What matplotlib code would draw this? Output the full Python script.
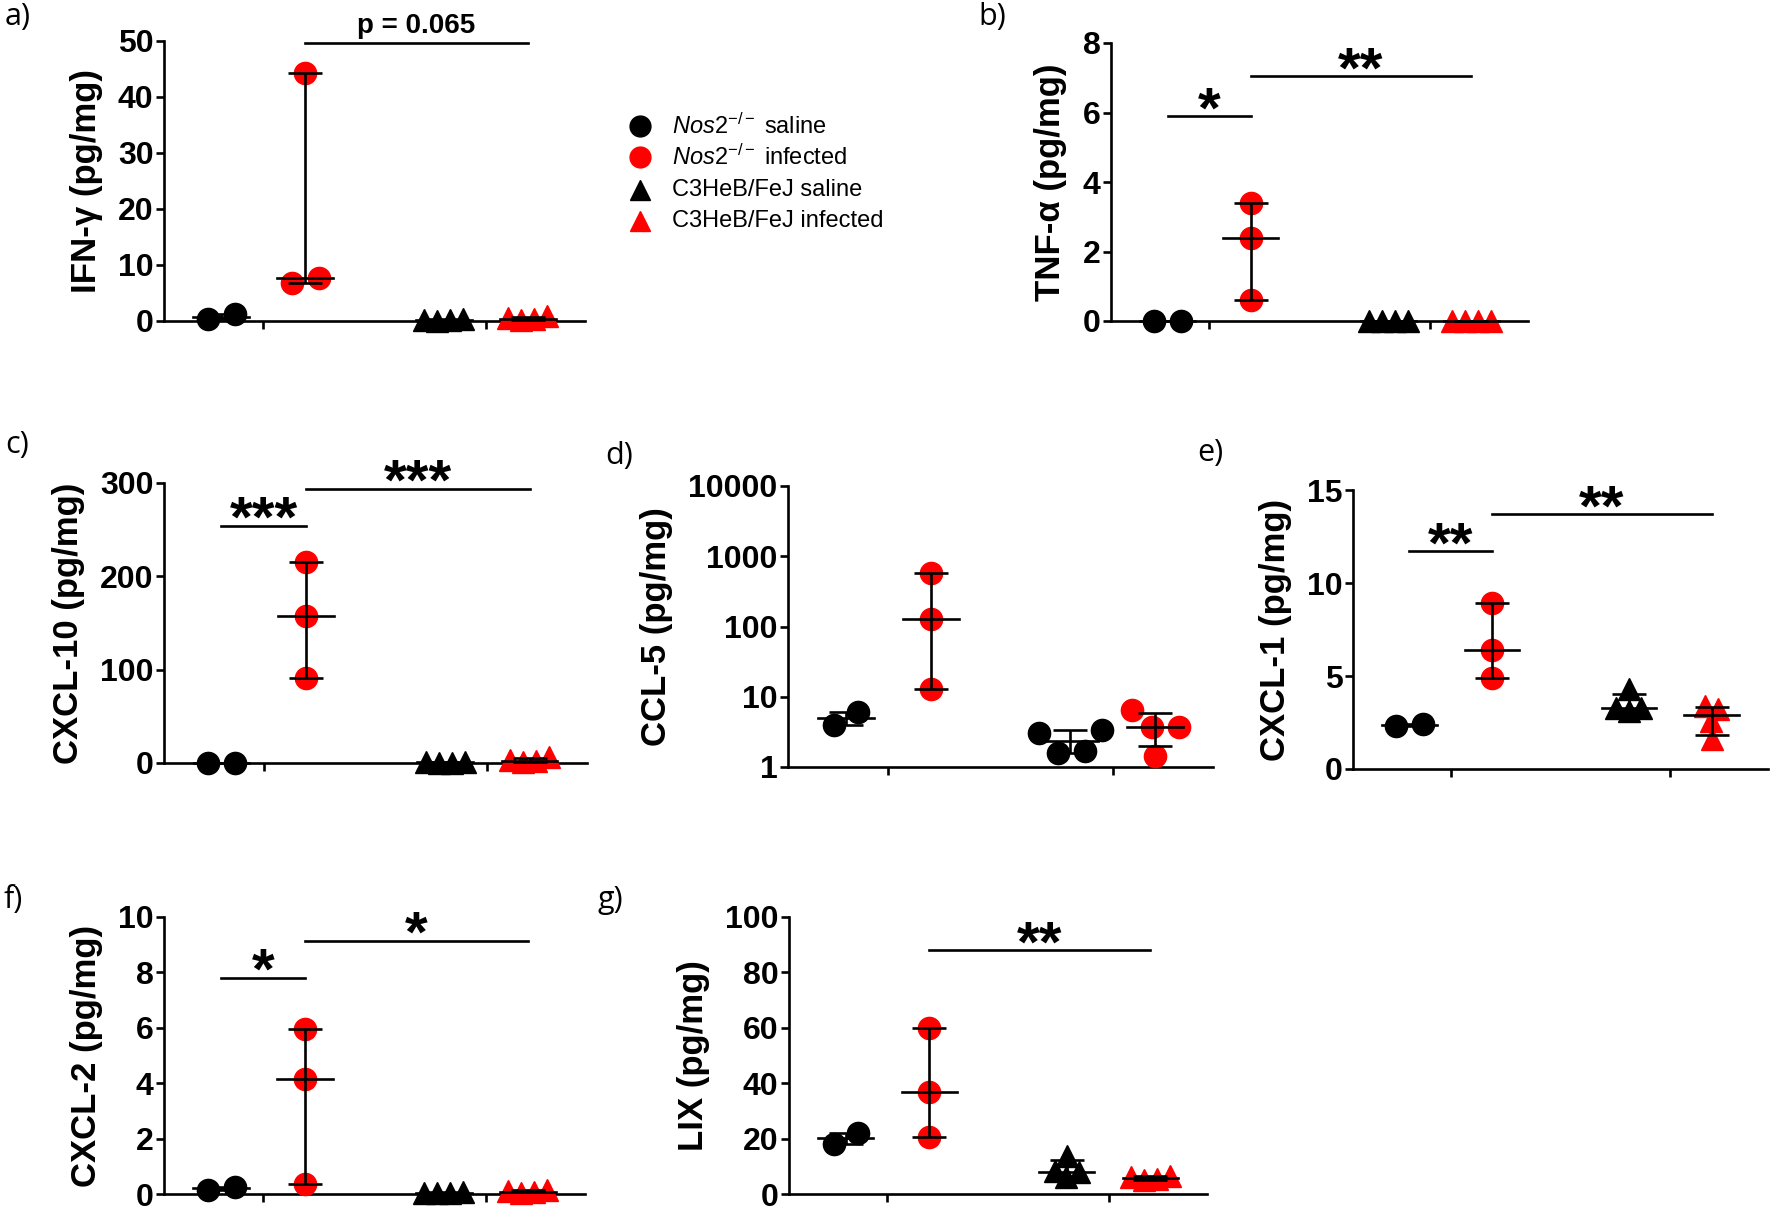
import numpy as np
import matplotlib
matplotlib.use("Agg")
import matplotlib.pyplot as plt
from matplotlib.lines import Line2D
from matplotlib.ticker import FuncFormatter, LogLocator, NullFormatter

plt.rcParams['font.family'] = 'Liberation Sans'
plt.rcParams['mathtext.fontset'] = 'custom'
plt.rcParams['mathtext.rm'] = 'Liberation Sans'
plt.rcParams['mathtext.it'] = 'Liberation Sans:italic'

# groups: Nos2-/- saline, Nos2-/- infected, C3HeB/FeJ saline, C3HeB/FeJ infected
group_names = [r'$\mathit{Nos2}^{\mathrm{-/-}}$ saline', r'$\mathit{Nos2}^{\mathrm{-/-}}$ infected',
               'C3HeB/FeJ saline', 'C3HeB/FeJ infected']
group_colors = ['black', 'red', 'black', 'red']
group_markers = ['o', 'o', '^', '^']
group_x = [0, 1, 2.65, 3.65]

ifng = [[0.3, 1.3], [44.2, 6.7, 7.7], [0.05, 0.1, 0.15, 0.4], [0.2, 0.3, 0.5, 0.9]]
tnfa = [[0, 0], [3.4, 2.4, 0.6], [0, 0, 0, 0], [0, 0, 0, 0]]
cxcl10 = [[0.5, 0.5], [215, 157, 91], [0.5, 0.5, 0.8, 1.2], [1, 2, 3, 6]]
ccl5 = [[3.9, 6.0], [586, 127, 13], [1.58, 1.67, 3.04, 3.4], [1.42, 3.66, 3.66, 6.5]]
cxcl1 = [[2.3, 2.4], [8.95, 6.4, 4.9], [3.1, 3.3, 3.3, 4.3], [1.6, 2.6, 3.2, 3.4]]
cxcl2 = [[0.15, 0.25], [5.96, 4.15, 0.36], [0.02, 0.03, 0.05, 0.08], [0.05, 0.08, 0.1, 0.15]]
lix = [[18.0, 22.2], [60.1, 37.0, 20.4], [6.0, 7.8, 8.4, 13.8], [5.0, 5.5, 6.0, 6.5]]

# significance bars: (from group, to group, height, label)
sig_a = [(1, 3, 49.6, 'p = 0.065')]
sig_b = [(0, 1, 5.9, '*'), (1, 3, 7.05, '**')]
sig_c = [(0, 1, 254, '***'), (1, 3, 294, '***')]
sig_d = []
sig_e = [(0, 1, 11.7, '**'), (1, 3, 13.7, '**')]
sig_f = [(0, 1, 7.8, '*'), (1, 3, 9.15, '*')]
sig_g = [(1, 3, 88, '**')]

W, H = 1770, 1212
fig = plt.figure(figsize=(W / 100, H / 100), dpi=100)


def quart(v, p):
    v = np.sort(v)
    n = len(v)
    h = p * (n + 1)
    if h <= 1:
        return v[0]
    if h >= n:
        return v[-1]
    lo = int(np.floor(h))
    return v[lo - 1] + (h - lo) * (v[lo] - v[lo - 1])


def swarm(ax, vals, spacing):
    ypix = ax.transData.transform(np.column_stack([np.ones(len(vals)), vals]))[:, 1]
    pxu = ax.transData.transform((1, 1))[0] - ax.transData.transform((0, 1))[0]
    steps = np.arange(0, 8.01, 0.05) * spacing
    cands = [0.0]
    for s in steps[1:]:
        cands += [s, -s]
    order = np.argsort(ypix)
    dx = np.zeros(len(vals))
    placed = []
    for i in order:
        for c in cands:
            if all((c - px) ** 2 + (ypix[i] - py) ** 2 >= spacing ** 2 * 0.98 for px, py in placed):
                break
        placed.append((c, ypix[i]))
        dx[i] = c
    # centre each cluster of overlapping points
    clusters = [[order[0]]]
    for a, b in zip(order[:-1], order[1:]):
        if ypix[b] - ypix[a] < spacing:
            clusters[-1].append(b)
        else:
            clusters.append([b])
    for cl in clusters:
        mid = (dx[cl].max() + dx[cl].min()) / 2
        dx[cl] -= mid
    return dx / pxu


def panel(rect, data, ylim, yticks, ylabel, letter, letter_xy, sigs, log=False, markers=group_markers):
    l, r, t, b = rect
    ax = fig.add_axes([l / W, 1 - b / H, (r - l) / W, (b - t) / H])
    if log:
        ax.set_yscale('log')
    ax.set_xlim(-0.68, 4.33)
    ax.set_ylim(*ylim)
    for sp in ['top', 'right']:
        ax.spines[sp].set_visible(False)
    for sp in ['left', 'bottom']:
        ax.spines[sp].set_linewidth(1.9)
    ax.set_xticks([0.5, 3.15])
    ax.set_xticklabels([])
    ax.set_yticks(yticks)
    if log:
        ax.yaxis.set_major_formatter(FuncFormatter(lambda v, p: '%d' % v))
        ax.yaxis.set_minor_locator(LogLocator(base=10, subs=np.arange(2, 10)))
        ax.yaxis.set_minor_formatter(NullFormatter())
        ax.tick_params(axis='y', which='minor', length=3, width=1.2)
    ax.tick_params(axis='both', which='major', length=5.5, width=1.9, labelsize=23, pad=2)
    for lab in ax.get_yticklabels():
        lab.set_fontweight('bold')
    ax.set_ylabel(ylabel, fontsize=25, fontweight='bold', labelpad=11)

    for gi, vals in enumerate(data):
        vals = np.array(vals, dtype=float)
        spacing = 27 if markers[gi] == 'o' else 13
        offs = swarm(ax, vals, spacing)
        ax.plot(group_x[gi] + offs, vals, linestyle='none', marker=markers[gi],
                markersize=16, color=group_colors[gi], clip_on=False, zorder=3)
        med = np.median(vals)
        q1, q3 = quart(vals, 0.25), quart(vals, 0.75)
        ax.errorbar([group_x[gi]], [med], yerr=[[med - q1], [q3 - med]], fmt='none',
                    ecolor='black', elinewidth=1.9, capsize=12, capthick=1.9,
                    clip_on=False, zorder=4)
        ax.plot([group_x[gi] - 0.33, group_x[gi] + 0.33], [med, med], color='black',
                lw=1.9, clip_on=False, zorder=4)

    for g1, g2, y, txt in sigs:
        ax.plot([group_x[g1], group_x[g2]], [y, y], color='black', lw=1.9, clip_on=False)
        xm = (group_x[g1] + group_x[g2]) / 2
        if txt.startswith('p'):
            ax.annotate(txt, (xm, y), xytext=(0, 3), textcoords='offset points',
                        ha='center', va='bottom', fontsize=20, fontweight='bold')
        else:
            ax.annotate(txt, (xm, y), xytext=(0, -8), textcoords='offset points',
                        ha='center', va='baseline', fontsize=42, fontweight='bold')

    fig.text(letter_xy[0] / W, 1 - letter_xy[1] / H, letter, fontsize=22,
             family='Open Sans', ha='left', va='top')
    return ax


panel((164, 585, 41, 321), ifng, (0, 50), np.arange(0, 51, 10), 'IFN-γ (pg/mg)', 'a)', (5, 2), sig_a)
panel((1111, 1528, 43, 321), tnfa, (0, 8), np.arange(0, 9, 2), 'TNF-α (pg/mg)', 'b)', (978, 2), sig_b)
panel((164, 587, 483, 763), cxcl10, (0, 300), np.arange(0, 301, 100), 'CXCL-10 (pg/mg)', 'c)', (5, 430), sig_c)
panel((788, 1213, 486, 767), ccl5, (1, 10000), [1, 10, 100, 1000, 10000], 'CCL-5 (pg/mg)', 'd)', (605, 441), sig_d,
      log=True, markers=['o', 'o', 'o', 'o'])
panel((1353, 1768, 490, 769), cxcl1, (0, 15), [0, 5, 10, 15], 'CXCL-1 (pg/mg)', 'e)', (1197, 438), sig_e)
panel((164, 585, 917, 1194), cxcl2, (0, 10), np.arange(0, 11, 2), 'CXCL-2 (pg/mg)', 'f)', (3, 885), sig_f)
panel((789, 1207, 917, 1194), lix, (0, 100), np.arange(0, 101, 20), 'LIX (pg/mg)', 'g)', (598, 885), sig_g)

# legend
leg_y = [126, 157, 190, 221]
for i in range(4):
    fig.add_artist(Line2D([640 / W], [1 - leg_y[i] / H], transform=fig.transFigure,
                          marker=group_markers[i], markersize=15, color=group_colors[i],
                          linestyle='none'))
    fig.text(672 / W, 1 - leg_y[i] / H, group_names[i], fontsize=17, ha='left', va='center')

fig.savefig('out.png', dpi=100)
